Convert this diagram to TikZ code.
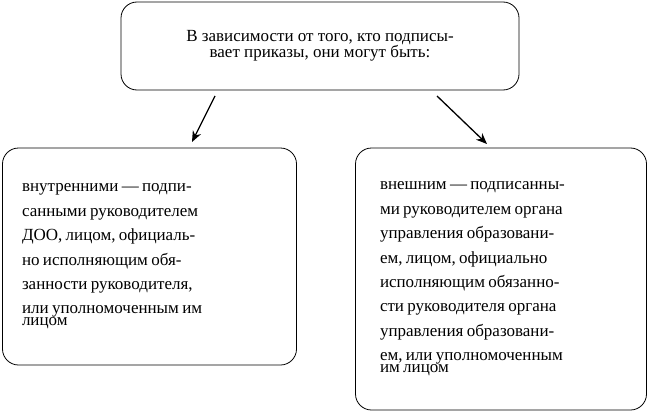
\documentclass[tikz,border=0pt]{standalone}
\usepackage{fontspec}
\setmainfont{Liberation Serif}
\usetikzlibrary{arrows.meta}
\newcommand{\jla}[1]{\makebox[255pt][s]{#1}\\}
\newcommand{\jlb}[1]{\makebox[242pt][s]{#1}\\}
\tikzset{box/.style={draw, line width=0.8pt, rounded corners=16pt, inner sep=0pt},
 arr/.style={line width=1.3pt, -{Stealth[length=11pt,width=9pt]}}}
\begin{document}
\begin{tikzpicture}
\useasboundingbox (0pt,0pt) rectangle (650pt,-412pt);
\node[box, minimum width=398pt, minimum height=88pt, align=center] (top) at (320pt,-46pt)
 {\fontsize{17}{24.4}\selectfont В зависимости от того, кто подписы-\\\fontsize{17}{24.4}\selectfont вает приказы, они могут быть:};
\node[box, minimum width=294pt, minimum height=217pt, text width=255pt, align=left] (left) at (149.5pt,-256.5pt)
 {\fontsize{17}{24.4}\selectfont\jla{внутренними — подпи-}\jla{санными руководителем}\jla{ДОО, лицом, официаль-}\jla{но исполняющим обя-}\jla{занности руководителя,}или уполномоченным им\\лицом};
\node[box, minimum width=291pt, minimum height=262pt, text width=242pt, align=left] (right) at (501pt,-279pt)
 {\fontsize{17}{24.4}\selectfont\jlb{внешним — подписанны-}\jlb{ми руководителем органа}\jlb{управления образовани-}\jlb{ем, лицом, официально}\jlb{исполняющим обязанно-}\jlb{сти руководителя органа}\jlb{управления образовани-}\jlb{ем, или уполномоченным}им лицом};
\coordinate (a1) at (215pt,-96pt);
\coordinate (b1) at (437pt,-96pt);
\draw[arr] (a1) -- (192pt,-142pt);
\draw[arr] (b1) -- (487pt,-144pt);
\end{tikzpicture}
\end{document}
